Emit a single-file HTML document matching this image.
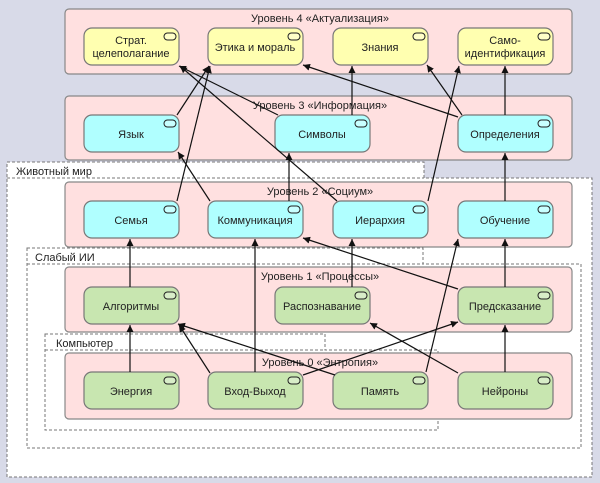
<!DOCTYPE html>
<html><head><meta charset="utf-8"><style>
html,body{margin:0;padding:0;background:#d8dae8;}
svg{display:block;font-family:"Liberation Sans","DejaVu Sans",sans-serif;}
</style></head><body>
<svg width="600" height="483" viewBox="0 0 600 483" xmlns="http://www.w3.org/2000/svg">
<defs>
<marker id="a" viewBox="0 0 10 10" refX="10" refY="5" markerWidth="7" markerHeight="7" orient="auto-start-reverse" markerUnits="userSpaceOnUse">
<path d="M0,0 L10,5 L0,10 z" fill="#111"/></marker>
</defs>
<rect width="600" height="483" fill="#d8dae8"/>
<!-- dashed groups -->
<g fill="#fff" stroke="#777" stroke-dasharray="3,2" stroke-width="1">
<path d="M7,162 H424 V178 H592 V477 H7 Z"/>
<line x1="7" y1="178" x2="424" y2="178"/>
<path d="M27,248 H423 V264 H581 V448 H27 Z"/>
<line x1="27" y1="264" x2="423" y2="264"/>
<path d="M45,334 H325 V350 H438 V430 H45 Z"/>
<line x1="45" y1="350" x2="325" y2="350"/>
</g>
<g font-size="11" fill="#222">
<text x="16" y="175">Животный мир</text>
<text x="35" y="261">Слабый ИИ</text>
<text x="56" y="347">Компьютер</text>
</g>
<!-- layers -->
<g fill="#ffe0e0" stroke="#888" stroke-width="1.2">
<rect x="65" y="9" width="507" height="65" rx="4"/>
<rect x="65" y="96" width="507" height="64" rx="4"/>
<rect x="65" y="182" width="507" height="65" rx="4"/>
<rect x="65" y="267" width="507" height="65" rx="4"/>
<rect x="65" y="353" width="507" height="66" rx="4"/>
</g>
<g font-size="11" fill="#222" text-anchor="middle">
<text x="320" y="22">Уровень 4 «Актуализация»</text>
<text x="320" y="109">Уровень 3 «Информация»</text>
<text x="320" y="195">Уровень 2 «Социум»</text>
<text x="320" y="280">Уровень 1 «Процессы»</text>
<text x="320" y="366">Уровень 0 «Энтропия»</text>
</g>
<!-- nodes -->
<g stroke="#777" stroke-width="1.2">
<rect x="84" y="28" width="95" height="37" rx="8" fill="#ffffb0"/>
<rect x="208" y="28" width="95" height="37" rx="8" fill="#ffffb0"/>
<rect x="333" y="28" width="95" height="37" rx="8" fill="#ffffb0"/>
<rect x="458" y="28" width="95" height="37" rx="8" fill="#ffffb0"/>
<rect x="84" y="115" width="95" height="37" rx="8" fill="#b0ffff"/>
<rect x="275" y="115" width="95" height="37" rx="8" fill="#b0ffff"/>
<rect x="458" y="115" width="95" height="37" rx="8" fill="#b0ffff"/>
<rect x="84" y="201" width="95" height="37" rx="8" fill="#b0ffff"/>
<rect x="208" y="201" width="95" height="37" rx="8" fill="#b0ffff"/>
<rect x="333" y="201" width="95" height="37" rx="8" fill="#b0ffff"/>
<rect x="458" y="201" width="95" height="37" rx="8" fill="#b0ffff"/>
<rect x="84" y="287" width="95" height="37" rx="8" fill="#c8e6b0"/>
<rect x="275" y="287" width="95" height="37" rx="8" fill="#c8e6b0"/>
<rect x="458" y="287" width="95" height="37" rx="8" fill="#c8e6b0"/>
<rect x="84" y="372" width="95" height="37" rx="8" fill="#c8e6b0"/>
<rect x="208" y="372" width="95" height="37" rx="8" fill="#c8e6b0"/>
<rect x="333" y="372" width="95" height="37" rx="8" fill="#c8e6b0"/>
<rect x="458" y="372" width="95" height="37" rx="8" fill="#c8e6b0"/>
</g>
<g fill="#fff" fill-opacity="0.3" stroke="#222" stroke-width="1">
<rect x="164" y="33" width="12" height="7" rx="3.5"/><rect x="288" y="33" width="12" height="7" rx="3.5"/><rect x="413" y="33" width="12" height="7" rx="3.5"/><rect x="538" y="33" width="12" height="7" rx="3.5"/>
<rect x="164" y="120" width="12" height="7" rx="3.5"/><rect x="355" y="120" width="12" height="7" rx="3.5"/><rect x="538" y="120" width="12" height="7" rx="3.5"/>
<rect x="164" y="206" width="12" height="7" rx="3.5"/><rect x="288" y="206" width="12" height="7" rx="3.5"/><rect x="413" y="206" width="12" height="7" rx="3.5"/><rect x="538" y="206" width="12" height="7" rx="3.5"/>
<rect x="164" y="292" width="12" height="7" rx="3.5"/><rect x="355" y="292" width="12" height="7" rx="3.5"/><rect x="538" y="292" width="12" height="7" rx="3.5"/>
<rect x="164" y="377" width="12" height="7" rx="3.5"/><rect x="288" y="377" width="12" height="7" rx="3.5"/><rect x="413" y="377" width="12" height="7" rx="3.5"/><rect x="538" y="377" width="12" height="7" rx="3.5"/>
</g>
<g font-size="11" fill="#222" text-anchor="middle">
<text x="131" y="44">Страт.</text><text x="131" y="57">целеполагание</text>
<text x="255" y="51">Этика и мораль</text>
<text x="380" y="51">Знания</text>
<text x="505" y="44">Само-</text><text x="505" y="57">идентификация</text>
<text x="131" y="138">Язык</text>
<text x="322" y="138">Символы</text>
<text x="505" y="138">Определения</text>
<text x="131" y="224">Семья</text>
<text x="255" y="224">Коммуникация</text>
<text x="380" y="224">Иерархия</text>
<text x="505" y="224">Обучение</text>
<text x="131" y="310">Алгоритмы</text>
<text x="322" y="310">Распознавание</text>
<text x="505" y="310">Предсказание</text>
<text x="131" y="395">Энергия</text>
<text x="255" y="395">Вход-Выход</text>
<text x="380" y="395">Память</text>
<text x="505" y="395">Нейроны</text>
</g>
<!-- connectors -->
<g stroke="#111" stroke-width="1.2" fill="none" marker-end="url(#a)">
<line x1="177" y1="115" x2="209" y2="66"/>
<line x1="177" y1="201" x2="210" y2="66"/>
<line x1="278" y1="115" x2="179" y2="66"/>
<line x1="337" y1="201" x2="180" y2="66"/>
<line x1="352" y1="115" x2="352" y2="66"/>
<line x1="458" y1="117" x2="303" y2="65"/>
<line x1="462" y1="115" x2="427" y2="65"/>
<line x1="428" y1="201" x2="459" y2="66"/>
<line x1="505" y1="115" x2="505" y2="66"/>
<line x1="505" y1="201" x2="505" y2="153"/>
<line x1="289" y1="201" x2="289" y2="153"/>
<line x1="210" y1="201" x2="178" y2="152"/>
<line x1="130" y1="287" x2="130" y2="239"/>
<line x1="255" y1="372" x2="255" y2="239"/>
<line x1="458" y1="289" x2="303" y2="238"/>
<line x1="352" y1="287" x2="352" y2="239"/>
<line x1="426" y1="372" x2="458" y2="239"/>
<line x1="505" y1="287" x2="505" y2="239"/>
<line x1="505" y1="372" x2="505" y2="325"/>
<line x1="130" y1="372" x2="130" y2="325"/>
<line x1="210" y1="373" x2="179" y2="325"/>
<line x1="335" y1="375" x2="178" y2="324"/>
<line x1="303" y1="375" x2="458" y2="322"/>
<line x1="458" y1="373" x2="370" y2="323"/>
</g>
</svg>
</body></html>
